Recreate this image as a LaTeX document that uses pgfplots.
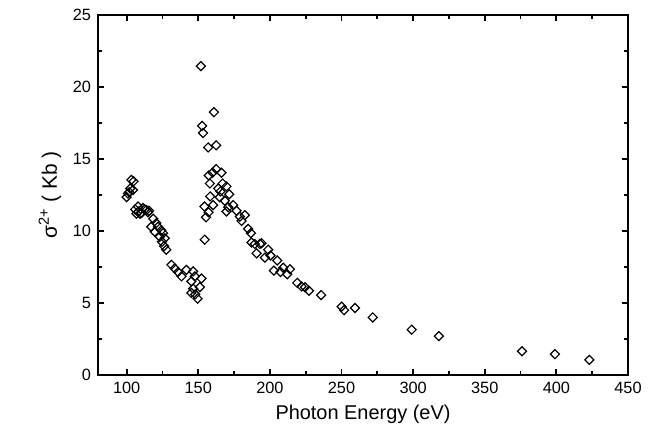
\documentclass[border=0pt]{standalone}
\usepackage{fontspec}
\setmainfont{Liberation Sans}
\usepackage{pgfplots}
\pgfplotsset{compat=1.18}

\pgfplotstableread{
E      s
100.0  12.35
100.9  12.6
101.8  12.7
102.5  12.95
104.4  12.85
103.3  13.55
104.8  13.45
106.0  11.5
106.8  11.2
107.9  11.7
108.2  11.35
109.3  11.2
110.4  11.25
111.4  11.6
112.6  11.5
113.7  11.45
114.9  11.3
115.6  11.4
117.2  10.3
118.6  10.85
119.6  9.95
120.7  10.55
121.9  10.3
123.1  9.6
124.2  10.05
124.7  9.25
125.4  9.85
126.1  8.95
126.6  9.5
127.7  8.7
131.3  7.65
133.6  7.4
135.9  7.15
138.3  6.85
141.7  7.3
145.2  6.5
146.4  7.2
147.6  6.85
146.4  6.0
145.2  5.7
147.9  5.6
149.5  5.3
151.1  6.1
152.2  6.7
151.8  21.45
160.9  18.25
152.7  17.3
153.3  16.8
156.9  15.8
162.5  15.95
162.5  14.3
160.0  14.05
166.2  14.05
157.3  13.85
158.1  13.3
163.9  12.95
167.0  13.3
169.7  13.1
165.5  12.75
171.6  12.55
158.3  12.4
165.0  12.35
168.5  12.1
160.4  11.8
154.3  11.7
174.4  11.8
170.9  11.65
157.2  11.3
169.7  11.35
176.7  11.4
182.5  11.1
179.0  11.0
155.4  10.95
180.2  10.7
154.5  9.4
184.8  10.15
186.7  9.85
187.2  9.2
189.5  9.1
193.0  9.1
194.2  9.15
190.7  8.45
198.8  8.7
196.5  8.15
200.4  8.3
205.1  7.95
202.8  7.25
207.4  7.15
209.3  7.45
214.0  7.35
212.1  7.0
219.1  6.4
222.1  6.15
224.5  6.1
227.3  5.85
235.8  5.55
250.1  4.75
251.8  4.5
259.4  4.65
271.8  4.0
299.0  3.15
318.0  2.7
376.0  1.65
399.0  1.45
423.0  1.05
}\sigmadata

\begin{document}
\begin{tikzpicture}
\begin{axis}[
  name=ax,
  scale only axis,
  width=265bp, height=180bp,
  xmin=80, xmax=450, ymin=0, ymax=25,
  xtick={100,150,...,450},
  ytick={0,5,...,25},
  minor x tick num=1,
  minor y tick num=1,
  tick align=inside,
  major tick length=3.2bp,
  minor tick length=2bp,
  axis line style={line width=1bp},
  every tick/.style={line width=0.9bp, black},
  tick label style={font=\fontsize{8.2}{9.5}\selectfont},
  /pgf/number format/assume math mode=true,
  xlabel={Photon Energy (eV)},
  ylabel={σ\textsuperscript{2+} ( Kb )},
  xlabel style={font=\fontsize{10}{12}\selectfont, yshift=1bp},
  ylabel style={font=\fontsize{10.5}{12}\selectfont, yshift=-1bp},
]
  \addplot[only marks, mark=square, mark size=1.6pt,
           mark options={solid, rotate=45, line width=0.6pt, black, fill=white}]
    table[x=E, y=s] {\sigmadata};
\end{axis}
\pgfresetboundingbox
\path[use as bounding box] ([shift={(-49bp,-28.5bp)}]ax.south west)
  rectangle ([shift={(12bp,7.5bp)}]ax.north east);
\end{tikzpicture}
\end{document}
